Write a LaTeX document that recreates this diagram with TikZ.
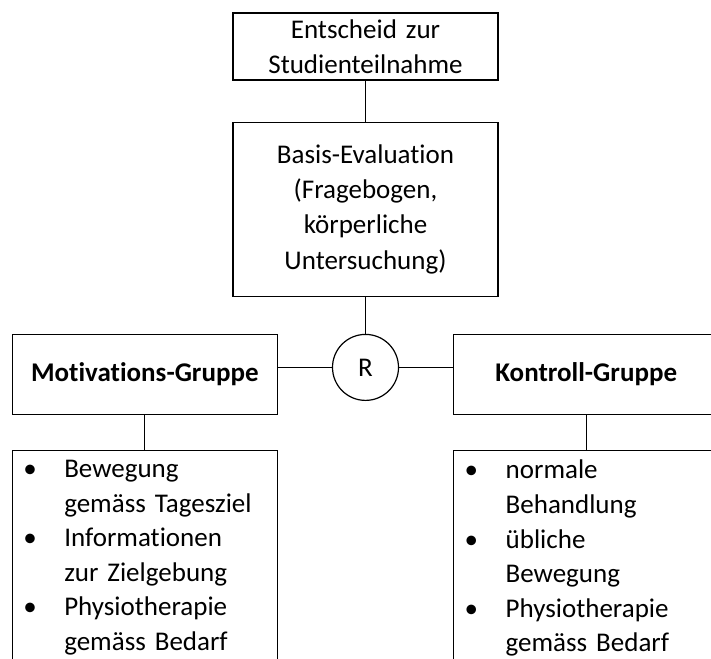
\documentclass[tikz,border=0pt]{standalone}
\usepackage{fontspec}
\setmainfont{Carlito}[Ligatures=NoCommon]
\usetikzlibrary{positioning, calc}
\newcommand{\punkt}[2]{\makebox[41pt][l]{\textbullet}#1\\\hspace*{41pt}#2}

\begin{document}
\begin{tikzpicture}[
    x=1pt, y=1pt,
    schrift/.style={font=\fontsize{27pt}{35.3pt}\selectfont},
    kasten/.style={rectangle, draw, line width=1.2pt, schrift, text width=245pt,
      inner xsep=10pt, align=center},
    gruppe/.style={kasten, minimum height=80pt, font=\fontsize{27pt}{35.3pt}\selectfont\bfseries},
    liste/.style={rectangle, draw, line width=1.2pt, font=\fontsize{27pt}{34.6pt}\selectfont,
      text width=243pt, inner xsep=11pt, inner ysep=9.5pt, align=left, anchor=north},
    linie/.style={line width=1.2pt}
  ]
    \useasboundingbox (0,0) rectangle (711,-658);
    \clip (0,0) rectangle (711,-658);

    \node[kasten, minimum height=67pt] (entscheid) at (365.5,-46.5) {Entscheid zur\\Studienteilnahme};
    \node[kasten, minimum height=174pt, below=41pt of entscheid] (basis) {Basis-Evaluation\\(Fragebogen,\\körperliche\\Untersuchung)};
    \node[circle, draw, line width=1.2pt, minimum size=66pt, inner sep=0pt, schrift, below=37pt of basis] (zufall) {R};
    \node[gruppe, anchor=north east] (motiv) at ([xshift=-54pt]zufall.north -| zufall.west) {Motivations-Gruppe};
    \node[gruppe, anchor=north west] (kontroll) at ([xshift=54pt]zufall.north -| zufall.east) {Kontroll-Gruppe};
    \node[liste, below=35pt of motiv] (listemotiv) {\punkt{Bewegung}{gemäss Tagesziel}\\
      \punkt{Informationen}{zur Zielgebung}\\\punkt{Physiotherapie}{gemäss Bedarf}};
    \node[liste, below=35pt of kontroll] (listekontroll) {\punkt{normale}{Behandlung}\\
      \punkt{übliche}{Bewegung}\\\punkt{Physiotherapie}{gemäss Bedarf}};

    \draw[linie] (entscheid) -- (basis);
    \draw[linie] (basis) -- (zufall);
    \draw[linie] (zufall.west) -- (zufall.west -| motiv.east);
    \draw[linie] (zufall.east) -- (zufall.east -| kontroll.west);
    \draw[linie] (motiv) -- (listemotiv);
    \draw[linie] (kontroll) -- (listekontroll);
  \end{tikzpicture}
\end{document}
